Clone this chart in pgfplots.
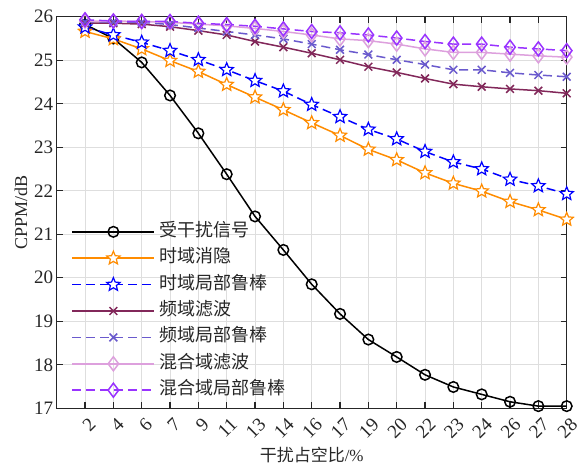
\documentclass[border=0pt]{standalone}
\usepackage{pgfplots}
\pgfplotsset{compat=1.18}
\usepackage{pgfplotstable}
\usepackage{fontspec}
\setmainfont{Liberation Serif}
\newfontfamily\cjk{Noto Sans CJK SC}
\usetikzlibrary{plotmarks}

\definecolor{axgray}{RGB}{38,38,38}
\definecolor{corange}{RGB}{255,140,0}
\definecolor{cblue}{RGB}{0,0,255}
\definecolor{cmaroon}{RGB}{130,40,90}
\definecolor{cslate}{RGB}{106,90,205}
\definecolor{cplum}{RGB}{221,160,221}
\definecolor{cpurple}{RGB}{153,51,255}

% five-pointed outline star (pentagram) marker
\pgfdeclareplotmark{pentagram}{%
  \pgfpathmoveto{\pgfqpointpolar{90}{\pgfplotmarksize}}%
  \pgfpathlineto{\pgfqpointpolar{126}{0.45\pgfplotmarksize}}%
  \pgfpathlineto{\pgfqpointpolar{162}{\pgfplotmarksize}}%
  \pgfpathlineto{\pgfqpointpolar{198}{0.45\pgfplotmarksize}}%
  \pgfpathlineto{\pgfqpointpolar{234}{\pgfplotmarksize}}%
  \pgfpathlineto{\pgfqpointpolar{270}{0.45\pgfplotmarksize}}%
  \pgfpathlineto{\pgfqpointpolar{306}{\pgfplotmarksize}}%
  \pgfpathlineto{\pgfqpointpolar{342}{0.45\pgfplotmarksize}}%
  \pgfpathlineto{\pgfqpointpolar{18}{\pgfplotmarksize}}%
  \pgfpathlineto{\pgfqpointpolar{54}{0.45\pgfplotmarksize}}%
  \pgfpathclose
  \pgfusepathqfillstroke}

% CPPM (dB) against interference duty cycle, one column per method
\pgfplotstableread{
i  jam   tdb   tdr   fdf   fdr   mdf   mdr
0  25.82 25.66 25.76 25.85 25.88 25.90 25.93
1  25.50 25.49 25.58 25.85 25.88 25.90 25.90
2  24.95 25.26 25.41 25.83 25.87 25.89 25.89
3  24.19 24.99 25.22 25.77 25.82 25.87 25.89
4  23.32 24.74 25.01 25.68 25.74 25.83 25.85
5  22.38 24.44 24.78 25.58 25.66 25.79 25.82
6  21.41 24.15 24.53 25.43 25.58 25.73 25.78
7  20.64 23.86 24.29 25.30 25.49 25.66 25.72
8  19.85 23.56 23.98 25.16 25.37 25.58 25.66
9  19.17 23.27 23.70 25.01 25.24 25.49 25.63
10 18.58 22.95 23.41 24.85 25.13 25.45 25.58
11 18.18 22.71 23.19 24.72 25.01 25.37 25.51
12 17.77 22.41 22.90 24.58 24.90 25.26 25.43
13 17.49 22.17 22.66 24.45 24.78 25.18 25.37
14 17.32 21.99 22.50 24.39 24.78 25.18 25.37
15 17.15 21.75 22.26 24.34 24.71 25.14 25.30
16 17.05 21.56 22.11 24.30 24.66 25.10 25.26
17 17.05 21.34 21.93 24.24 24.62 25.07 25.22
}\cppm

\begin{document}
\begin{tikzpicture}
\useasboundingbox (-56.7pt,-63.7pt) rectangle (521.3pt,408.3pt);
\begin{axis}[
  scale only axis, width=510pt, height=391.6pt,
  xmin=-1, xmax=17, ymin=17, ymax=26,
  xtick={0,...,17},
  xticklabels={2,4,6,7,9,11,13,14,16,17,19,20,22,23,24,26,27,28},
  ytick={17,...,26},
  clip=false,
  grid=major,
  major grid style={black!13, line width=0.8pt},
  axis line style={axgray, line width=1.5pt},
  major tick style={axgray, line width=1.2pt},
  major tick length=6pt,
  tick label style={font=\fontsize{19}{22}\selectfont, text=axgray},
  /pgf/number format/assume math mode=true,
  xticklabel style={rotate=45, anchor=north east, inner sep=2pt, yshift=-6pt, xshift=-2pt},
  ylabel={CPPM/dB},
  ylabel style={font=\fontsize{18}{21}\selectfont, text=axgray},
  xlabel={{\cjk 干扰占空比}/\%},
  xlabel style={font=\fontsize{17}{20}\selectfont, text=axgray, yshift=-1pt},
  legend cell align=left,
  legend style={draw=none, fill=none, at={(0.023,0.49)}, anchor=north west,
    font=\fontsize{18}{21}\selectfont, text=axgray, row sep=0pt,
    nodes={inner sep=4.7pt, text height=13pt, text depth=4pt}},
  legend image code/.code={\draw[mark repeat=2,mark phase=2]
    plot coordinates {(0pt,0pt) (41pt,0pt) (82pt,0pt)};},
  every axis plot/.append style={line width=1.5pt},
]
\addplot[black, mark=o, mark size=5.3pt, mark options={solid}]
  table[x=i, y=jam] {\cppm};
\addlegendentry{\cjk 受干扰信号}
\addplot[corange, mark=pentagram, mark size=7pt, mark options={solid, fill=white, line width=1.2pt}]
  table[x=i, y=tdb] {\cppm};
\addlegendentry{\cjk 时域消隐}
\addplot[cblue, dash pattern=on 9pt off 5pt, mark=pentagram, mark size=7pt, mark options={solid, fill=white, line width=1.2pt}]
  table[x=i, y=tdr] {\cppm};
\addlegendentry{\cjk 时域局部鲁棒}
\addplot[cmaroon, mark=x, mark size=5.5pt, mark options={solid}]
  table[x=i, y=fdf] {\cppm};
\addlegendentry{\cjk 频域滤波}
\addplot[cslate, dash pattern=on 9pt off 5pt, mark=x, mark size=5.5pt, mark options={solid}]
  table[x=i, y=fdr] {\cppm};
\addlegendentry{\cjk 频域局部鲁棒}
\addplot[cplum, mark=diamond, mark size=7pt, mark options={solid}]
  table[x=i, y=mdf] {\cppm};
\addlegendentry{\cjk 混合域滤波}
\addplot[cpurple, dash pattern=on 9pt off 5pt, mark=diamond, mark size=7pt, mark options={solid}]
  table[x=i, y=mdr] {\cppm};
\addlegendentry{\cjk 混合域局部鲁棒}
\end{axis}
\end{tikzpicture}
\end{document}
